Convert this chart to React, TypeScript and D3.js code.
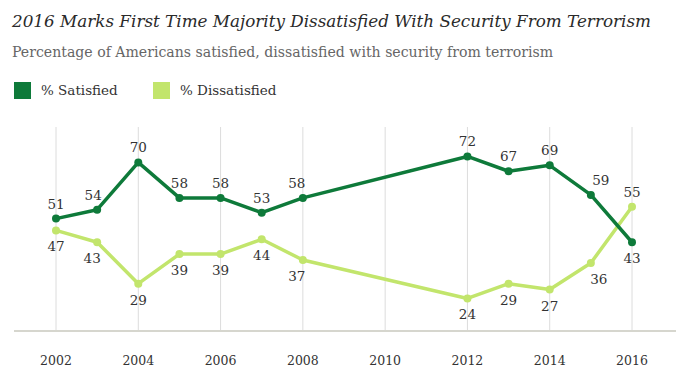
import React from "react";
import * as d3 from "d3";

const years = [2002, 2003, 2004, 2005, 2006, 2007, 2008, 2012, 2013, 2014, 2015, 2016];
const satisfied = [51, 54, 70, 58, 58, 53, 58, 72, 67, 69, 59, 43];
const dissatisfied = [47, 43, 29, 39, 39, 44, 37, 24, 29, 27, 36, 55];
const tickYears = [2002, 2004, 2006, 2008, 2010, 2012, 2014, 2016];
const title = "2016 Marks First Time Majority Dissatisfied With Security From Terrorism";
const subtitle = "Percentage of Americans satisfied, dissatisfied with security from terrorism";
const seriesNames = ["% Satisfied", "% Dissatisfied"];

// label placement nudges (layout only)
const satLabelDx = [0, -4, 0, 0, 0, 0, -6, 0, 0, 0, 10, 0];
const disLabelDx = [0, -5, 0, 0, 0, 0, -6, 0, 0, 0, 8, 0];
const satBelow = [false, false, false, false, false, false, false, false, false, false, false, true];
const disAbove = [false, false, false, false, false, false, false, false, false, false, false, true];

const DARK = "#0e7a3a";
const LIGHT = "#c2e56c";
const SERIF = "'DejaVu Serif', Georgia, serif";

export default function App() {
  const W = 676, H = 382;
  const x = d3.scaleLinear().domain([2002, 2016]).range([56, 632]);
  const y = d3.scaleLinear().domain([13, 80]).range([331, 132.8]);
  const line = d3.line<[number, number]>().x(d => x(d[0])).y(d => y(d[1]));
  const satPts: [number, number][] = years.map((yr, i) => [yr, satisfied[i]]);
  const disPts: [number, number][] = years.map((yr, i) => [yr, dissatisfied[i]]);

  return (
    <svg width={W} height={H} style={{ position: "absolute", left: 0, top: 0, background: "#fff" }}>
      <text x={12} y={27} fontFamily={SERIF} fontStyle="italic" fontSize={16.8} fill="#2a2a2a">{title}</text>
      <text x={12} y={57} fontFamily={SERIF} fontSize={14.1} fill="#666">{subtitle}</text>

      <rect x={14} y={82} width={17} height={17} fill={DARK} />
      <text x={41} y={95} fontFamily={SERIF} fontSize={13.5} fill="#333">{seriesNames[0]}</text>
      <rect x={153} y={82} width={17} height={17} fill={LIGHT} />
      <text x={180} y={95} fontFamily={SERIF} fontSize={13.5} fill="#333">{seriesNames[1]}</text>

      {tickYears.map(t => (
        <g key={t}>
          <line x1={x(t)} x2={x(t)} y1={127} y2={331} stroke="#dcdcdc" strokeWidth={1} />
          <text x={x(t)} y={365} textAnchor="middle" fontFamily={SERIF} fontSize={12.5} fill="#333">{t}</text>
        </g>
      ))}
      <line x1={14} x2={676} y1={331} y2={331} stroke="#d6d6ce" strokeWidth={2} />

      <path d={line(disPts) || ""} fill="none" stroke={LIGHT} strokeWidth={3.5} strokeLinejoin="round" />
      {disPts.map((p, i) => (
        <circle key={"dc" + i} cx={x(p[0])} cy={y(p[1])} r={4} fill={LIGHT} />
      ))}
      <path d={line(satPts) || ""} fill="none" stroke={DARK} strokeWidth={3.5} strokeLinejoin="round" />
      {satPts.map((p, i) => (
        <circle key={"sc" + i} cx={x(p[0])} cy={y(p[1])} r={4} fill={DARK} />
      ))}

      {satPts.map((p, i) => (
        <text key={"sl" + i} x={x(p[0]) + satLabelDx[i]} y={y(p[1]) + (satBelow[i] ? 21 : -10)}
          textAnchor="middle" fontFamily={SERIF} fontSize={13.5} fill="#333">{p[1]}</text>
      ))}
      {disPts.map((p, i) => (
        <text key={"dl" + i} x={x(p[0]) + disLabelDx[i]} y={y(p[1]) + (disAbove[i] ? -10 : 21)}
          textAnchor="middle" fontFamily={SERIF} fontSize={13.5} fill="#333">{p[1]}</text>
      ))}
    </svg>
  );
}
